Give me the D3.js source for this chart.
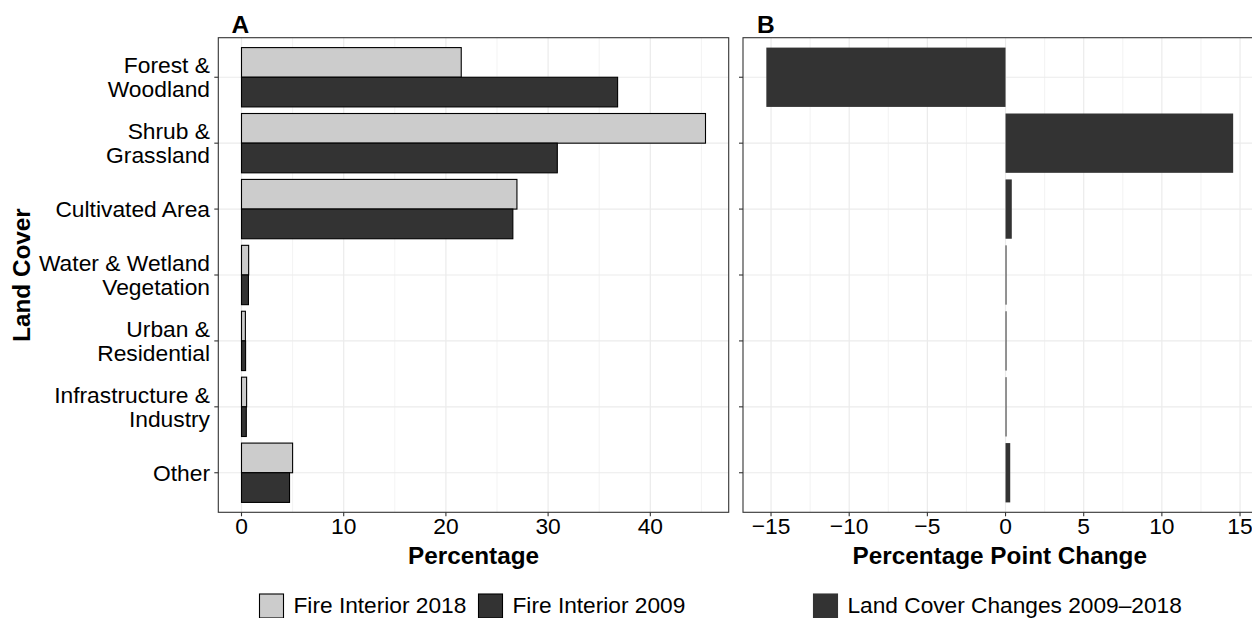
<!DOCTYPE html>
<html>
<head>
<meta charset="utf-8">
<script src="https://cdn.jsdelivr.net/npm/d3@7"></script>
<style>
  html, body { margin: 0; padding: 0; background: #ffffff; }
  svg { display: block; font-family: "Liberation Sans", Arial, Helvetica, sans-serif; }
</style>
</head>
<body>
<svg id="chart" width="1252" height="618"></svg>
<script>
// ---------------- data ----------------
const categories = [
  "Forest & Woodland",
  "Shrub & Grassland",
  "Cultivated Area",
  "Water & Wetland Vegetation",
  "Urban & Residential",
  "Infrastructure & Industry",
  "Other"
];
const categoryLines = [
  ["Forest &", "Woodland"],
  ["Shrub &", "Grassland"],
  ["Cultivated Area"],
  ["Water & Wetland", "Vegetation"],
  ["Urban &", "Residential"],
  ["Infrastructure &", "Industry"],
  ["Other"]
];
const fire2018 = [21.5, 45.4, 26.95, 0.7, 0.38, 0.5, 5.0];
const fire2009 = [36.8, 30.9, 26.55, 0.68, 0.4, 0.47, 4.7];
const change = [-15.3, 14.56, 0.4, 0.03, 0.02, 0.02, 0.3];
const seriesNames = ["Fire Interior 2018", "Fire Interior 2009"];
const changeName = "Land Cover Changes 2009\u20132018";
const ticksA = [0, 10, 20, 30, 40];
const minorA = [5, 15, 25, 35, 45];
const ticksB = [-15, -10, -5, 0, 5, 10, 15];
const minorB = [-12.5, -7.5, -2.5, 2.5, 7.5, 12.5];
const axisTitleY = "Land Cover";
const axisTitleA = "Percentage";
const axisTitleB = "Percentage Point Change";
const panelTags = ["A", "B"];

// ---------------- layout ----------------
const svg = d3.select("#chart");
const plotTop = 37.7, plotBottom = 512.3;
const pA = {left: 218.3, right: 728.7};
const pB = {left: 743.0, right: 1256.5};
const light = "#cccccc", dark = "#333333", grid = "#ebebeb", border = "#333333";
const tickFont = 22.8, titleFont = 24.3, legendFont = 22.7;

const y = d3.scaleBand().domain(categories).range([plotTop, plotBottom])
  .paddingInner(0.1).paddingOuter(0.15);
const ySub = d3.scaleBand().domain(seriesNames).range([0, y.bandwidth()]);

function expand(lo, hi) { const r = hi - lo; return [lo - 0.05 * r, hi + 0.05 * r]; }
const maxA = d3.max([...fire2018, ...fire2009]);
const xA = d3.scaleLinear().domain(expand(0, maxA)).range([pA.left, pA.right]);
const xB = d3.scaleLinear().domain(expand(d3.min(change), d3.max(change))).range([pB.left, pB.right]);

const fmt = v => (v < 0 ? "\u2212" + Math.abs(v) : String(v));

function panel(x, p, majors, minors) {
  const g = svg.append("g");
  g.selectAll(".minx").data(minors.filter(v => x(v) > p.left && x(v) < p.right)).join("line")
    .attr("x1", d => x(d)).attr("x2", d => x(d)).attr("y1", plotTop).attr("y2", plotBottom)
    .attr("stroke", grid).attr("stroke-width", 0.6);
  g.selectAll(".majx").data(majors).join("line")
    .attr("x1", d => x(d)).attr("x2", d => x(d)).attr("y1", plotTop).attr("y2", plotBottom)
    .attr("stroke", grid).attr("stroke-width", 1.2);
  g.selectAll(".majy").data(categories).join("line")
    .attr("x1", p.left).attr("x2", p.right)
    .attr("y1", d => y(d) + y.bandwidth() / 2).attr("y2", d => y(d) + y.bandwidth() / 2)
    .attr("stroke", grid).attr("stroke-width", 1.2);
  return g;
}

const gA = panel(xA, pA, ticksA, minorA);
const gB = panel(xB, pB, ticksB, minorB);

// panel A bars
const seriesA = [fire2018, fire2009];
const fillsA = [light, dark];
seriesA.forEach((vals, si) => {
  gA.selectAll(".bar" + si).data(categories).join("rect")
    .attr("x", (d, i) => xA(Math.min(0, vals[i])))
    .attr("width", (d, i) => Math.abs(xA(vals[i]) - xA(0)))
    .attr("y", d => y(d) + ySub(seriesNames[si]))
    .attr("height", ySub.bandwidth())
    .attr("fill", fillsA[si]).attr("stroke", "#000").attr("stroke-width", 1.1);
});

// panel B bars
gB.selectAll(".barB").data(categories).join("rect")
  .attr("x", (d, i) => xB(Math.min(0, change[i])))
  .attr("width", (d, i) => Math.max(1, Math.abs(xB(change[i]) - xB(0))))
  .attr("y", d => y(d))
  .attr("height", y.bandwidth())
  .attr("fill", dark);

// borders
[pA, pB].forEach(p => {
  svg.append("rect").attr("x", p.left).attr("y", plotTop)
    .attr("width", p.right - p.left).attr("height", plotBottom - plotTop)
    .attr("fill", "none").attr("stroke", border).attr("stroke-width", 1.1);
});

// x axes
function xAxis(x, majors) {
  const g = svg.append("g");
  g.selectAll("line").data(majors).join("line")
    .attr("x1", d => x(d)).attr("x2", d => x(d)).attr("y1", plotBottom).attr("y2", plotBottom + 4)
    .attr("stroke", border).attr("stroke-width", 1.1);
  g.selectAll("text").data(majors).join("text")
    .attr("x", d => x(d)).attr("y", 533.5).attr("text-anchor", "middle")
    .attr("font-size", tickFont).attr("fill", "#000").text(fmt);
}
xAxis(xA, ticksA);
xAxis(xB, ticksB);

// y ticks
[pA, pB].forEach(p => {
  svg.append("g").selectAll("line").data(categories).join("line")
    .attr("x1", p.left - 4).attr("x2", p.left)
    .attr("y1", d => y(d) + y.bandwidth() / 2).attr("y2", d => y(d) + y.bandwidth() / 2)
    .attr("stroke", border).attr("stroke-width", 1.1);
});

// y tick labels (panel A only)
const yl = svg.append("g");
categories.forEach((c, i) => {
  const cy = y(c) + y.bandwidth() / 2;
  const lines = categoryLines[i];
  const lh = 24;
  const first = cy + 8 - (lines.length - 1) * lh / 2;
  const t = yl.append("text").attr("text-anchor", "end")
    .attr("font-size", tickFont).attr("fill", "#000");
  lines.forEach((ln, k) => {
    t.append("tspan").attr("x", 210).attr("y", first + k * lh).text(ln);
  });
});

// axis titles
svg.append("text").attr("transform", `translate(29.5,${(plotTop + plotBottom) / 2}) rotate(-90)`)
  .attr("text-anchor", "middle").attr("font-size", titleFont).attr("font-weight", "bold")
  .text(axisTitleY);
svg.append("text").attr("x", (pA.left + pA.right) / 2).attr("y", 564)
  .attr("text-anchor", "middle").attr("font-size", titleFont).attr("font-weight", "bold")
  .text(axisTitleA);
svg.append("text").attr("x", (pB.left + pB.right) / 2).attr("y", 564)
  .attr("text-anchor", "middle").attr("font-size", titleFont).attr("font-weight", "bold")
  .text(axisTitleB);

// panel tags
svg.append("text").attr("x", 231.5).attr("y", 33).attr("font-size", 24.5).attr("font-weight", "bold").text(panelTags[0]);
svg.append("text").attr("x", 757).attr("y", 33).attr("font-size", 24.5).attr("font-weight", "bold").text(panelTags[1]);

// legends
const legendItems = [
  {x: 259.5, fill: light, label: seriesNames[0], stroke: "#000"},
  {x: 478.5, fill: dark, label: seriesNames[1], stroke: "#000"},
  {x: 813.5, fill: dark, label: changeName, stroke: dark}
];
const lg = svg.append("g");
legendItems.forEach(it => {
  lg.append("rect").attr("x", it.x).attr("y", 594).attr("width", 24).attr("height", 24)
    .attr("fill", it.fill).attr("stroke", it.stroke).attr("stroke-width", 1.1);
  lg.append("text").attr("x", it.x + 34).attr("y", 613).attr("font-size", legendFont)
    .attr("fill", "#000").text(it.label);
});
</script>
</body>
</html>
